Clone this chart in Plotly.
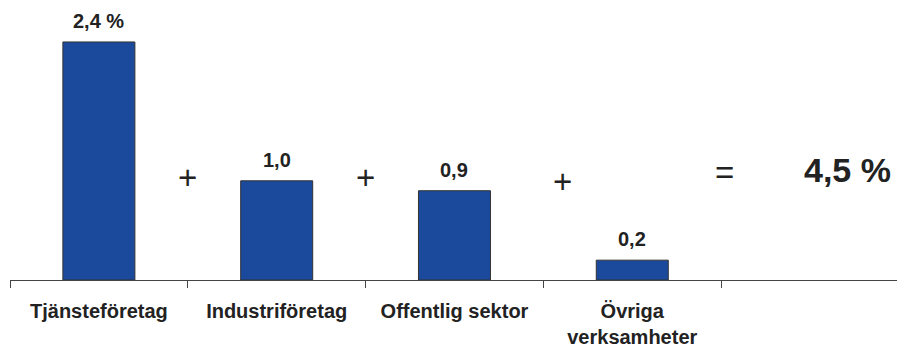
import plotly.graph_objects as go

categories = ["Tjänsteföretag", "Industriföretag", "Offentlig sektor", "Övriga<br>verksamheter", ""]
values = [2.4, 1.0, 0.9, 0.2, None]
value_labels = ["2,4 %", "1,0", "0,9", "0,2", ""]
operators = ["+", "+", "+", "="]
operator_x = [0.5, 1.5, 2.61, 3.52]
operator_y = [1.03, 1.03, 0.99, 1.08]
total_label = "4,5 %"
total_x = 4.21
total_y = 1.11

FONT = "Liberation Sans, Arial, Helvetica, sans-serif"
BLUE = "#1B4A9C"
TXT = "#222222"

fig = go.Figure()
fig.add_trace(go.Bar(
    x=categories, y=values, width=0.405,
    marker=dict(color=BLUE, line=dict(color="#333333", width=1)),
    hoverinfo="skip",
))

for c, v, t in zip(categories, values, value_labels):
    if v is None:
        continue
    fig.add_annotation(x=c, y=v, text=f"<b>{t}</b>", showarrow=False,
                       yanchor="middle", yshift=21,
                       font=dict(family=FONT, size=20, color=TXT))

for ox, oy, op in zip(operator_x, operator_y, operators):
    fig.add_annotation(x=ox, y=oy, text=op, showarrow=False,
                       xanchor="center", yanchor="middle",
                       font=dict(family=FONT, size=33, color=TXT))

fig.add_annotation(x=total_x, y=total_y, text=f"<b>{total_label}</b>", showarrow=False,
                   xanchor="center", yanchor="middle",
                   font=dict(family=FONT, size=34, color=TXT))

fig.update_layout(
    width=897, height=347,
    margin=dict(l=10, r=0, t=0, b=67),
    paper_bgcolor="white", plot_bgcolor="white",
    showlegend=False,
    xaxis=dict(
        type="category", range=[-0.5, 4.489],
        showline=True, linecolor="#444444", linewidth=1,
        ticks="outside", tickson="boundaries", ticklen=7, tickcolor="#444444",
        tickfont=dict(family=FONT, size=20, color=TXT),
        ticklabelstandoff=13,
        showgrid=False, zeroline=False,
        automargin=False,
    ),
    yaxis=dict(range=[0, 2.823], visible=False, showgrid=False, zeroline=False),
)
fig.update_xaxes(tickvals=categories, ticktext=[f"<b>{c}</b>" for c in categories])

fig.write_html("out.html",
               config={"displayModeBar": False, "staticPlot": True},
               post_script="document.body.style.margin='0';document.body.style.overflow='hidden';")
